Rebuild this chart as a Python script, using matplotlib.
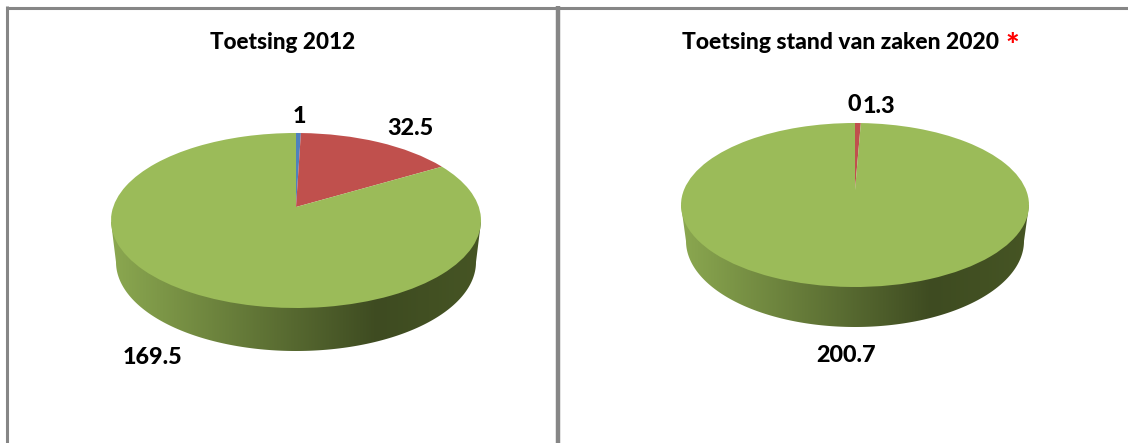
#!/usr/bin/env python
import numpy as np
import matplotlib
matplotlib.use("Agg")
import matplotlib.pyplot as plt
from matplotlib.patches import Polygon
from matplotlib.transforms import Transform

plt.rcParams['font.family'] = ['Lato', 'DejaVu Sans']

# ------------------------------------------------------------
# Data
# ------------------------------------------------------------
values_2012 = [1, 32.5, 169.5]
values_2020 = [0, 1.3, 200.7]
title_2012 = "Toetsing 2012"
title_2020 = "Toetsing stand van zaken 2020"
colors = ['#4f81bd', '#c0504d', '#9bbb59']


class Tilt(Transform):
    """Unit circle -> tilted ellipse, in pixel coordinates of the page."""
    input_dims = 2
    output_dims = 2

    def __init__(self, cx, cy, a, b, k):
        super().__init__()
        self.cx, self.cy, self.a, self.b, self.k = cx, cy, a, b, k

    def transform_non_affine(self, values):
        x, y = values[:, 0], values[:, 1]
        w = 1 + self.k * y
        return np.column_stack([self.cx + self.a * x / w, self.cy - self.b * y / w])


def draw_pie(ax, values, cx, cy, up, down, half_w, side_top, side_w, side_h, side_cy):
    k = (down - up) / (down + up)
    b = up * (1 + k)
    a = half_w * np.sqrt(1 - k**2)
    tilt = Tilt(cx, cy, a, b, k)

    # side of the disc, a gradient clipped to the outline (top face covers the rest)
    t = np.linspace(np.pi, 2 * np.pi, 200)
    low_x = cx + side_w * np.cos(t)
    low_y = side_cy - side_h * np.sin(t)
    outline = np.column_stack([np.r_[cx - half_w, low_x, cx + half_w],
                               np.r_[side_top, low_y, side_top]])
    poly = Polygon(outline, closed=True, fc='none', ec='none', transform=ax.transData)
    ax.add_patch(poly)

    stops = np.array([0, 0.72, 1])
    rgb = np.array([[139, 168, 80], [62, 75, 33], [70, 85, 36]]) / 255
    u = np.linspace(0, 1, 256)
    grad = np.stack([np.interp(u, stops, rgb[:, c]) for c in range(3)], axis=-1)[None, :, :]
    im = ax.imshow(grad, extent=[cx - half_w, cx + half_w, side_cy + side_h, cy - up],
                   aspect='auto', zorder=1, interpolation='bilinear')
    im.set_clip_path(poly)

    wedges, _ = ax.pie(values, colors=colors, startangle=90, counterclock=False,
                       wedgeprops=dict(linewidth=0))
    for w in wedges:
        w.set_transform(tilt + ax.transData)
        w.set_zorder(2)


fig = plt.figure(figsize=(11.28, 4.43), dpi=100)
ax = fig.add_axes([0, 0, 1, 1])

draw_pie(ax, values_2012, 296, 207, 74, 101, 185, 222, 180, 89, 262)
draw_pie(ax, values_2020, 855, 190, 67, 97, 174, 205, 169, 86, 241)

ax.set_aspect('auto')
ax.set_xlim(0, 1128)
ax.set_ylim(443, 0)
ax.axis('off')

# frame lines
grey = '#868686'
ax.plot([7, 1128], [7.5, 7.5], color=grey, lw=2.2, solid_capstyle='butt')
ax.plot([7, 7], [6, 443], color=grey, lw=2.2, solid_capstyle='butt')
ax.plot([558, 558], [6, 443], color=grey, lw=3.2, solid_capstyle='butt')

# titles
txt = dict(fontweight=900, color='black', ha='center', va='center')
ax.text(282.5, 42.5, title_2012, fontsize=16.2, **txt)
ax.text(841, 42.5, title_2020, fontsize=16.5, **txt)
ax.text(1012, 46, "*", fontsize=23, fontweight=900, color='#ff0000', ha='center', va='center')

# data labels
ax.text(299, 116, f"{values_2012[0]:g}", fontsize=16.8, **txt)
ax.text(410, 128, f"{values_2012[1]:g}", fontsize=16.8, **txt)
ax.text(152.5, 358, f"{values_2012[2]:g}", fontsize=16.8, **txt)
ax.text(854, 104, f"{values_2020[0]:g}", fontsize=16.8, **txt)
ax.text(879, 106, f"{values_2020[1]:g}", fontsize=16.8, **txt)
ax.text(846.5, 355, f"{values_2020[2]:g}", fontsize=16.8, **txt)

fig.savefig("out.png", dpi=100)
